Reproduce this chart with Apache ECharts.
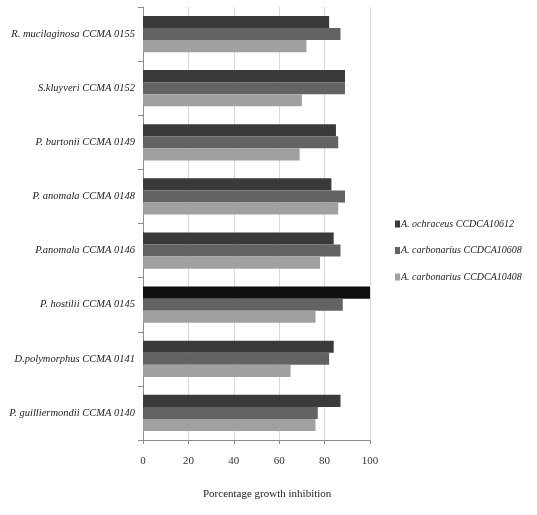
<!DOCTYPE html>
<html>
<head>
<meta charset="utf-8">
<script src="https://cdn.jsdelivr.net/npm/echarts@6/dist/echarts.min.js"></script>
<style>html,body{margin:0;padding:0;background:#fff;}#c{width:537px;height:515px;}</style>
</head>
<body>
<div id="c"></div>
<script>
var categories = [
  'R. mucilaginosa CCMA 0155',
  'S.kluyveri CCMA 0152',
  'P. burtonii CCMA 0149',
  'P. anomala CCMA 0148',
  'P.anomala CCMA 0146',
  'P. hostilii CCMA 0145',
  'D.polymorphus CCMA 0141',
  'P. guilliermondii CCMA 0140'
];
var seriesNames = ['A. ochraceus CCDCA10612', 'A. carbonarius CCDCA10608', 'A. carbonarius CCDCA10408'];
var ochraceus10612 = [82, 89, 85, 83, 84, 100, 84, 87];
var carbonarius10608 = [87, 89, 86, 89, 87, 88, 82, 77];
var carbonarius10408 = [72, 70, 69, 86, 78, 76, 65, 76];
var xTicks = [0, 20, 40, 60, 80, 100];

var colors = ['#3a3a3a', '#636363', '#a0a0a0'];
var font = 'Liberation Serif';

var chart = echarts.init(document.getElementById('c'));
var firstData = ochraceus10612.map(function (v, i) {
  return i === 5 ? { value: v, itemStyle: { color: '#101010' } } : v;
});
chart.setOption({
  animation: false,
  backgroundColor: '#fff',
  grid: { left: 143, right: 167, top: 7, bottom: 75, containLabel: false },
  legend: {
    orient: 'vertical',
    left: 390,
    top: 214,
    itemWidth: 5,
    itemHeight: 7,
    itemGap: 16.5,
    icon: 'rect',
    textStyle: { fontFamily: font, fontStyle: 'italic', fontSize: 10, color: '#222', padding: [0, 0, 0, -4] },
    data: seriesNames
  },
  xAxis: {
    type: 'value',
    min: xTicks[0],
    max: xTicks[xTicks.length - 1],
    interval: 20,
    axisLine: { show: true, lineStyle: { color: '#8c8c8c' } },
    axisTick: { show: true, length: 4, lineStyle: { color: '#8c8c8c' } },
    axisLabel: { fontFamily: font, fontSize: 11, color: '#333', margin: 16 },
    splitLine: { show: true, lineStyle: { color: '#d9d9d9' } }
  },
  yAxis: {
    type: 'category',
    inverse: true,
    data: categories,
    axisLine: { show: true, lineStyle: { color: '#8c8c8c' } },
    axisTick: { show: true, length: 5, lineStyle: { color: '#8c8c8c' } },
    axisLabel: { fontFamily: font, fontStyle: 'italic', fontSize: 10.5, color: '#222', margin: 8 }
  },
  graphic: [{
    type: 'text',
    left: 203,
    top: 489,
    style: { text: 'Porcentage growth inhibition', fontFamily: font, fontSize: 11, fill: '#222' }
  }],
  series: [
    { name: seriesNames[0], type: 'bar', data: firstData, itemStyle: { color: colors[0] }, barGap: '0%', barCategoryGap: '33%' },
    { name: seriesNames[1], type: 'bar', data: carbonarius10608, itemStyle: { color: colors[1] }, barGap: '0%', barCategoryGap: '33%' },
    { name: seriesNames[2], type: 'bar', data: carbonarius10408, itemStyle: { color: colors[2] }, barGap: '0%', barCategoryGap: '33%' }
  ]
});
</script>
</body>
</html>
